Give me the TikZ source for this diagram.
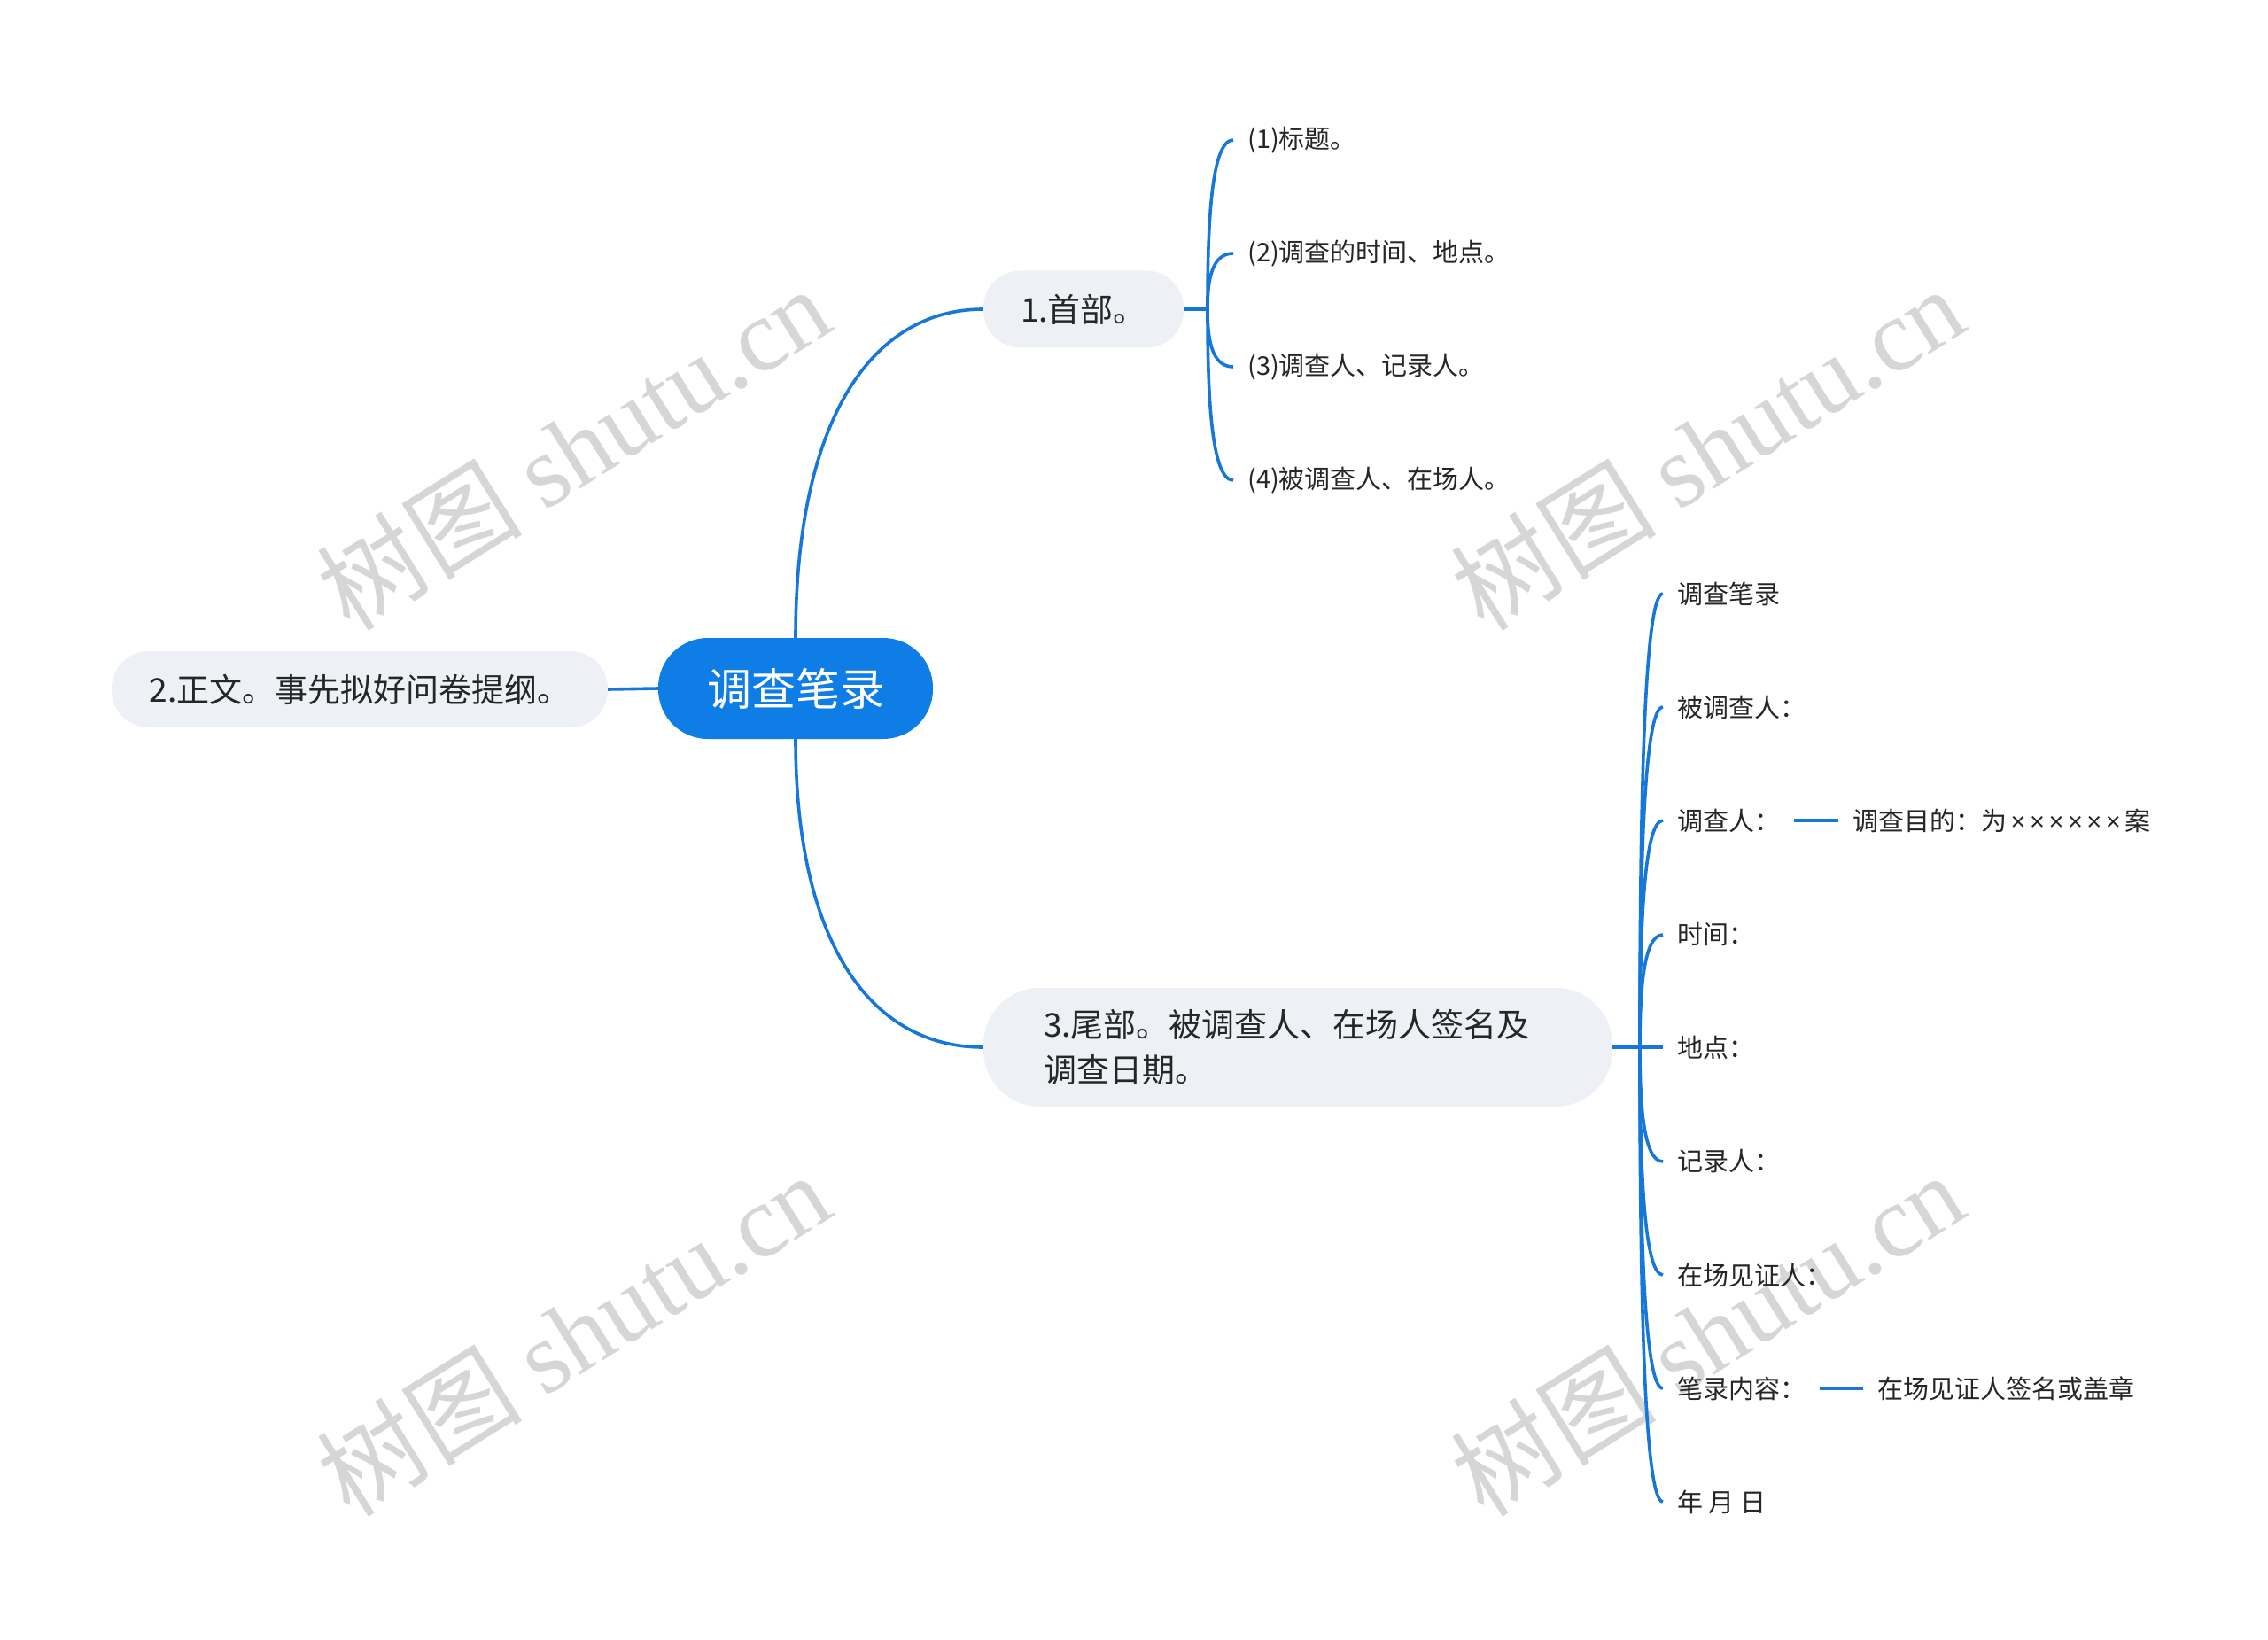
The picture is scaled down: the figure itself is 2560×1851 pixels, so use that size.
\documentclass[tikz,border=0pt]{standalone}
\usepackage{fontspec}
\setmainfont{Noto Sans CJK SC}
\newfontfamily\wmlatin{Liberation Serif}
\newfontfamily\latinsans{Liberation Sans}
\newcommand\tms{\kern4.5pt{\latinsans ×}}
\definecolor{mainblue}{HTML}{0F7DE6}
\definecolor{lineblue}{HTML}{1677DB}
\definecolor{boxgray}{HTML}{EDF0F4}
\definecolor{txt}{HTML}{262626}
\definecolor{wm}{HTML}{D6D6D6}
\begin{document}
\begin{tikzpicture}[x=1pt,y=-1pt,
  root/.style={fill=mainblue, text=white, rounded corners=56pt, minimum width=310pt, minimum height=114pt, inner sep=0pt, font=\fontsize{50}{60}\selectfont},
  topic/.style={fill=boxgray, text=txt, inner sep=0pt, font=\fontsize{37}{51}\selectfont},
  leaf/.style={text=txt, anchor=west, inner xsep=16pt, inner ysep=0pt, font=\fontsize{29}{36}\selectfont},
  conn/.style={draw=lineblue, line width=3.6pt},
  sub/.style={draw=lineblue, line width=4pt},
  wmark/.style={text=wm, rotate=32, font=\fontsize{116}{126}\selectfont, inner sep=0pt}
]
\useasboundingbox[fill=white] (0,0) rectangle (2560,1851);

% watermarks
\node[wmark] (w1) at (647,505) {树图 {\wmlatin shutu.cn}};
\node[wmark] (w2) at (1927,505) {树图 {\wmlatin shutu.cn}};
\node[wmark] (w3) at (647,1505) {树图 {\wmlatin shutu.cn}};
\node[wmark] (w4) at (1927,1505) {树图 {\wmlatin shutu.cn}};

% main nodes
\node[root] (c) at (898,777) {调查笔录};
\node[topic, rounded corners=42pt, minimum width=560pt, minimum height=86pt] (n2) at (406,778) {2.正文。事先拟好问卷提纲。};
\node[topic, rounded corners=42pt, minimum width=226pt, minimum height=87pt] (n1) at (1223,349) {1.首部。};
\node[topic, rounded corners=64pt, minimum height=134pt, inner xsep=68pt, text width=574pt, align=left] (n3) at (1465,1182) {3.尾部。被调查人、在场人签名及\\调查日期。};

% level-1 connectors
\draw[conn] (n2.east) -- (c.west);
\draw[conn] (c.north) .. controls (898,480) and (980,349) .. (n1.west);
\draw[conn] (c.south) .. controls (898,1060) and (980,1182) .. (n3.west);

% children of node 1
\node[leaf] (a1) at (1392,158) {(1)标题。};
\node[leaf] (a2) at (1392,286) {(2)调查的时间、地点。};
\node[leaf] (a3) at (1392,414) {(3)调查人、记录人。};
\node[leaf] (a4) at (1392,542) {(4)被调查人、在场人。};
\coordinate (j1) at (1363,349);
\draw[conn] (n1.east) -- (j1);
\draw[conn] (j1) .. controls (1363,253.5) and (1367,158) .. (a1.west);
\draw[conn] (j1) .. controls (1363,317.5) and (1367,286) .. (a2.west);
\draw[conn] (j1) .. controls (1363,381.5) and (1367,414) .. (a3.west);
\draw[conn] (j1) .. controls (1363,445.5) and (1367,542) .. (a4.west);

% children of node 3
\node[leaf] (b1) at (1877,670) {调查笔录};
\node[leaf] (b2) at (1877,798) {被调查人：};
\node[leaf] (b3) at (1877,926) {调查人：};
\node[leaf] (b4) at (1877,1055) {时间：};
\node[leaf] (b5) at (1877,1182) {地点：};
\node[leaf] (b6) at (1877,1311) {记录人：};
\node[leaf] (b7) at (1877,1439) {在场见证人：};
\node[leaf] (b8) at (1877,1567) {笔录内容：};
\node[leaf] (b9) at (1877,1695) {年 月 日};
\coordinate (j3) at (1851,1182);
\draw[conn] (n3.east) -- (b5.west);
\draw[conn] (j3) .. controls (1851,926) and (1855,670) .. (b1.west);
\draw[conn] (j3) .. controls (1851,990) and (1855,798) .. (b2.west);
\draw[conn] (j3) .. controls (1851,1054) and (1855,926) .. (b3.west);
\draw[conn] (j3) .. controls (1851,1118.5) and (1855,1055) .. (b4.west);
\draw[conn] (j3) .. controls (1851,1246.5) and (1855,1311) .. (b6.west);
\draw[conn] (j3) .. controls (1851,1310.5) and (1855,1439) .. (b7.west);
\draw[conn] (j3) .. controls (1851,1374.5) and (1855,1567) .. (b8.west);
\draw[conn] (j3) .. controls (1851,1438.5) and (1855,1695) .. (b9.west);

% sub-children
\node[leaf] (s1) at (2075,926) {调查目的：为\tms\tms\tms\tms\tms\tms\kern4.5pt 案};
\node[leaf] (s2) at (2103,1567) {在场见证人签名或盖章};
\draw[sub] (b3.east) -- (s1.west);
\draw[sub] (b8.east) -- (s2.west);
\end{tikzpicture}
\end{document}
